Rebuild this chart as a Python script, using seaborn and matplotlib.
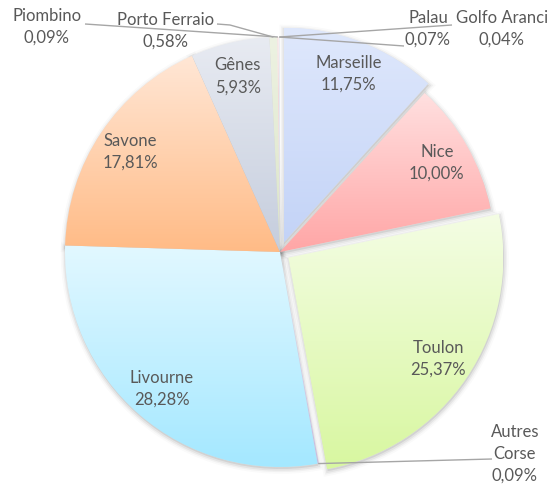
import numpy as np
import matplotlib
matplotlib.use("Agg")
import matplotlib.pyplot as plt
import seaborn as sns
from matplotlib.patches import Wedge

# ---------------- data ----------------
ports = ["Marseille", "Nice", "Toulon", "Autres Corse", "Livourne", "Savone",
         "Gênes", "Porto Ferraio", "Piombino", "Palau", "Golfo Aranci"]
label_names = ["Marseille", "Nice", "Toulon", "Autres\nCorse", "Livourne", "Savone",
               "Gênes", "Porto Ferraio", "Piombino", "Palau", "Golfo Aranci"]
shares = [11.75, 10.00, 25.37, 0.09, 28.28, 17.81, 5.93, 0.58, 0.09, 0.07, 0.04]

# ---------------- style ----------------
top_colors = ["#dfe8fc", "#ffe0e0", "#f4fde4", "#e2d8ee", "#e2f8ff", "#ffe7d6",
              "#e8ebf2", "#edf2e2", "#f3dede", "#dfe8fc", "#eeeeee"]
bottom_colors = ["#c3d3f7", "#ffa6a6", "#d8f7a0", "#c9bce0", "#a4e8ff", "#ffbb86",
                 "#c5cddd", "#dbe5c8", "#e7c3c3", "#c3d3f7", "#d5d5d5"]
explode = [0.047, 0.0, 0.047, 0.0, 0.0, 0.0, 0.0, 0.0, 0.0, 0.0, 0.0]
TEXT = "#595959"
LINE = "#a6a6a6"

sns.set_theme(style="white")
plt.rcParams["font.family"] = ["Lato", "DejaVu Sans"]

W, H = 547, 486
CX, CY, R = 280, 252, 215


def px(x, y):
    return ((x - CX) / R, (CY - y) / R)


fig = plt.figure(figsize=(W / 100, H / 100), dpi=100)
ax = fig.add_axes([0, 0, 1, 1])

wedges, _ = ax.pie(shares, explode=explode, startangle=90, counterclock=False,
                   radius=1, wedgeprops=dict(linewidth=0))
ax.set_aspect("equal")
ax.axis("off")

# soft shadows below the larger slices
dy = -2.0 / R
for w, v in zip(wedges, shares):
    if v < 1:
        continue
    c = (w.center[0] + 0.6 / R, w.center[1] + dy)
    for lw, a in [(7, 0.02), (4.5, 0.035), (2.5, 0.05)]:
        s = Wedge(c, w.r, w.theta1, w.theta2, facecolor="none",
                  edgecolor=(0, 0, 0, a), linewidth=lw, zorder=0.5)
        ax.add_patch(s)
    s = Wedge(c, w.r, w.theta1, w.theta2, facecolor=(0, 0, 0, 0.08),
              linewidth=0, zorder=0.5)
    ax.add_patch(s)

# vertical gradient fill for every slice
for w, ct, cb in zip(wedges, top_colors, bottom_colors):
    w.set_zorder(1)
    ext = w.get_path().get_extents()
    cmap = sns.blend_palette([cb, ct], n_colors=256, as_cmap=True)
    grad = np.linspace(0, 1, 256).reshape(-1, 1)
    im = ax.imshow(grad, cmap=cmap, origin="lower", aspect="auto",
                   extent=(ext.x0, ext.x1, ext.y0, ext.y1), zorder=1,
                   interpolation="bilinear")
    im.set_clip_path(w)
    w.set_facecolor("none")

ax.set_xlim(-CX / R, (W - CX) / R)
ax.set_ylim(-(H - CY) / R, CY / R)


def mid_point(w, r):
    t = np.deg2rad((w.theta1 + w.theta2) / 2)
    return (w.center[0] + r * np.cos(t), w.center[1] + r * np.sin(t))


def pct(v):
    return f"{v:.2f}".replace(".", ",") + "%"


FS = 12
LS = 1.45
inner = ["Marseille", "Nice", "Toulon", "Livourne", "Savone", "Gênes"]
for w, name, lab, v in zip(wedges, ports, label_names, shares):
    if name in inner:
        x, y = mid_point(w, 0.84)
        ax.text(x, y, f"{lab}\n{pct(v)}", ha="center", va="center",
                color=TEXT, fontsize=FS, linespacing=LS, zorder=5)

# outside labels: text centre (px) and leader path (px), anchor from wedge
outside = {
    "Autres Corse": dict(text=(515, 454), path=[(492, 459)]),
    "Porto Ferraio": dict(text=(166, 31), path=[(230, 25), (217, 24)]),
    "Piombino": dict(text=(47, 27), path=[(85, 24)]),
    "Palau": dict(text=(428, 29), path=[(404, 46)]),
    "Golfo Aranci": dict(text=(502, 29), path=[(452, 25)]),
}
for w, name, lab, v in zip(wedges, ports, label_names, shares):
    if name in outside:
        spec = outside[name]
        ax.text(*px(*spec["text"]), f"{lab}\n{pct(v)}", ha="center", va="center",
                color=TEXT, fontsize=FS, linespacing=LS, zorder=5)
        a = mid_point(w, 1.0)
        pts = [a] + [px(*p) for p in spec["path"]]
        xs, ys = zip(*pts)
        ax.plot(xs, ys, color=LINE, lw=1.0, zorder=4, solid_capstyle="butt")

fig.savefig("out.png", dpi=100, facecolor="white")
